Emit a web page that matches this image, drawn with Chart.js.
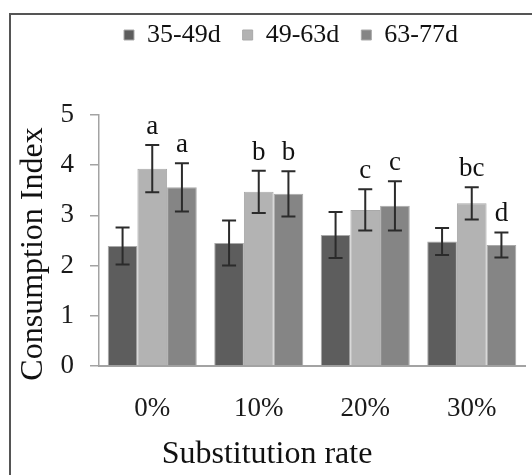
<!DOCTYPE html>
<html lang="en">
<head>
  <meta charset="UTF-8">
  <title>Consumption Index by Substitution rate</title>
  <script src="https://cdn.jsdelivr.net/npm/chart.js"></script>
  <style>
    body {
      margin: 0;
      background: #fff;
    }
  </style>
</head>
<body>
  <canvas id="ciChart" width="532" height="475"></canvas>

  <script>
    // values
    const rates = ['0%', '10%', '20%', '30%'];
    const seriesNames = ['35-49d', '49-63d', '63-77d'];
    const ci35 = [2.39, 2.45, 2.61, 2.48];
    const ci49 = [3.93, 3.47, 3.11, 3.24];
    const ci63 = [3.56, 3.43, 3.19, 2.41];
    const err35 = [0.37, 0.45, 0.46, 0.27];
    const err49 = [0.47, 0.42, 0.41, 0.32];
    const err63 = [0.48, 0.45, 0.49, 0.25];
    const letters35 = ['', '', '', ''];
    const letters49 = ['a', 'b', 'c', 'bc'];
    const letters63 = ['a', 'b', 'c', 'd'];
    const yTicks = [0, 1, 2, 3, 4, 5];

    const errs = [err35, err49, err63];
    const letters = [letters35, letters49, letters63];
    const colors = ['#5d5d5d', '#b3b3b3', '#858585'];

    Chart.defaults.font.family = '"Liberation Serif", "Times New Roman", serif';
    Chart.defaults.color = '#1a1a1a';

    const frame = {
      id: 'frame',
      beforeDraw(chart) {
        const ctx = chart.ctx;
        ctx.save();
        ctx.strokeStyle = '#555';
        ctx.lineWidth = 2;
        ctx.beginPath();
        ctx.moveTo(10, 475);
        ctx.lineTo(10, 14);
        ctx.lineTo(532, 14);
        ctx.stroke();
        ctx.restore();
      },
      afterDraw(chart) {
        // axis titles
        const ctx = chart.ctx;
        ctx.save();
        ctx.fillStyle = '#111';
        ctx.font = '32px "Liberation Serif", serif';
        ctx.textAlign = 'center';
        ctx.textBaseline = 'alphabetic';
        ctx.fillText('Substitution rate', 267, 463);
        ctx.translate(42, 254);
        ctx.rotate(-Math.PI / 2);
        ctx.fillText('Consumption Index', 0, 0);
        ctx.restore();
      }
    };

    const errorBars = {
      id: 'errorBars',
      afterDatasetsDraw(chart) {
        const ctx = chart.ctx;
        const y = chart.scales.y;
        ctx.save();
        chart.data.datasets.forEach((ds, i) => {
          const meta = chart.getDatasetMeta(i);
          meta.data.forEach((bar, j) => {
            const v = ds.data[j];
            const e = errs[i][j];
            const top = y.getPixelForValue(v + e);
            const bot = y.getPixelForValue(v - e);
            ctx.strokeStyle = '#2b2b2b';
            ctx.lineWidth = 2;
            ctx.beginPath();
            ctx.moveTo(bar.x, top);
            ctx.lineTo(bar.x, bot);
            ctx.moveTo(bar.x - 7, top);
            ctx.lineTo(bar.x + 7, top);
            ctx.moveTo(bar.x - 7, bot);
            ctx.lineTo(bar.x + 7, bot);
            ctx.stroke();

            const txt = letters[i][j];
            if (txt) {
              ctx.fillStyle = '#111';
              ctx.font = '27px "Liberation Serif", serif';
              ctx.textAlign = 'center';
              ctx.textBaseline = 'alphabetic';
              ctx.fillText(txt, bar.x, top - 11);
            }
          });
        });
        ctx.restore();
      }
    };

    const ctx = document.getElementById('ciChart').getContext('2d');
    new Chart(ctx, {
      type: 'bar',
      data: {
        labels: rates,
        datasets: [
          { label: seriesNames[0], data: ci35, backgroundColor: colors[0] },
          { label: seriesNames[1], data: ci49, backgroundColor: colors[1] },
          { label: seriesNames[2], data: ci63, backgroundColor: colors[2] }
        ].map(d => Object.assign(d, {
          borderColor: '#a9a9a9',
          borderWidth: 1,
          barPercentage: 1,
          categoryPercentage: 0.836
        }))
      },
      options: {
        responsive: false,
        animation: false,
        layout: {
          padding: { top: 0, left: 57, right: 7, bottom: 0 }
        },
        plugins: {
          legend: {
            position: 'top',
            labels: {
              boxWidth: 10,
              boxHeight: 10,
              padding: 22,
              color: '#111',
              font: { size: 26 }
            }
          },
          // empty title used as a spacer between legend and plot
          title: {
            display: true,
            text: '',
            weight: 500,
            font: { size: 10, lineHeight: 1 },
            padding: { top: 47, bottom: 0 }
          },
          tooltip: { enabled: false }
        },
        scales: {
          x: {
            grid: { display: false },
            border: { display: true, color: '#a3a3a3', width: 2 },
            ticks: {
              padding: 19,
              color: '#1a1a1a',
              font: { size: 27 }
            },
            afterFit(scale) { scale.height = 109; }
          },
          y: {
            min: 0,
            max: 5,
            afterBuildTicks(scale) {
              scale.ticks = yTicks.map(v => ({ value: v }));
            },
            grid: {
              drawOnChartArea: false,
              drawTicks: true,
              tickLength: 9,
              color: '#a3a3a3',
              lineWidth: 1.5
            },
            border: { display: true, color: '#a3a3a3', width: 1.5 },
            ticks: {
              padding: 16,
              color: '#1a1a1a',
              font: { size: 27 }
            },
            afterFit(scale) { scale.width = 42; }
          }
        }
      },
      plugins: [frame, errorBars]
    });
  </script>
</body>
</html>
